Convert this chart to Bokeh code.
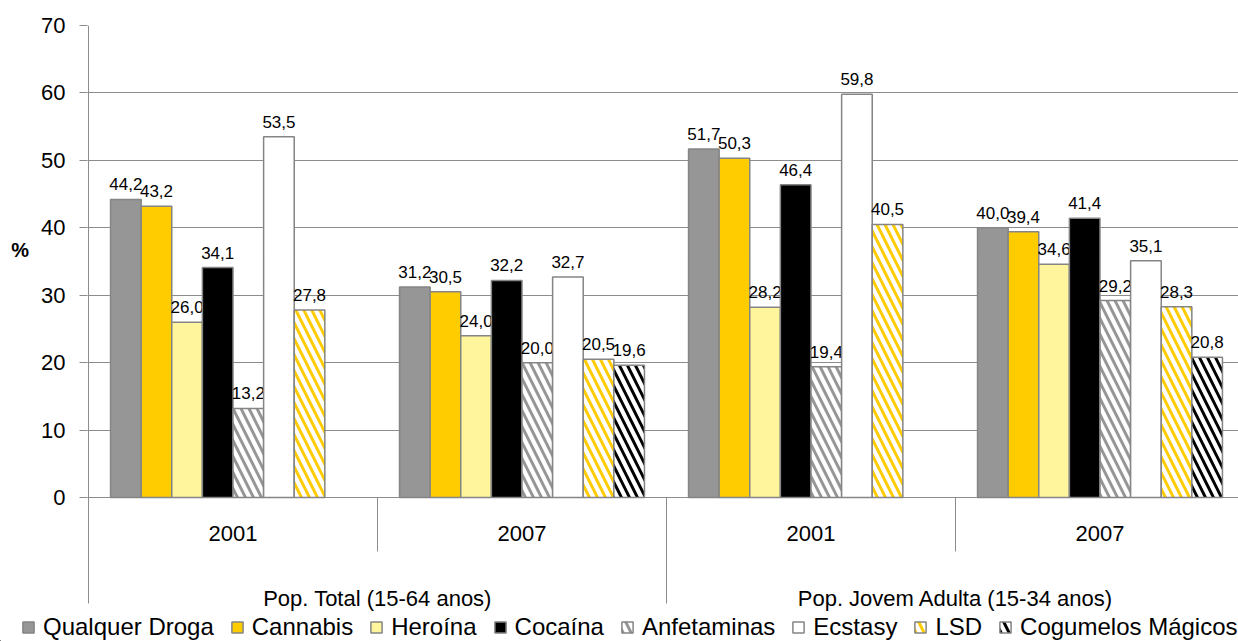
from bokeh.plotting import figure
from bokeh.models import ColumnDataSource, Range1d, FixedTicker, Legend, LegendItem
from bokeh.layouts import column
from bokeh.transform import dodge
from bokeh.core.properties import value
from bokeh.embed import file_html
from bokeh.resources import INLINE

# ---------------- data ----------------
populations = ["Pop. Total (15-64 anos)", "Pop. Jovem Adulta (15-34 anos)"]
years = ["2001", "2007", "2001", "2007"]
series_names = ["Qualquer Droga", "Cannabis", "Heroína", "Cocaína",
                "Anfetaminas", "Ecstasy", "LSD", "Cogumelos Mágicos"]
qualquer_droga = [44.2, 31.2, 51.7, 40.0]
cannabis = [43.2, 30.5, 50.3, 39.4]
heroina = [26.0, 24.0, 28.2, 34.6]
cocaina = [34.1, 32.2, 46.4, 41.4]
anfetaminas = [13.2, 20.0, 19.4, 29.2]
ecstasy = [53.5, 32.7, 59.8, 35.1]
lsd = [27.8, 20.5, 40.5, 28.3]
cogumelos = [None, 19.6, None, 20.8]
y_ticks = [0, 10, 20, 30, 40, 50, 60, 70]

series_values = [qualquer_droga, cannabis, heroina, cocaina,
                 anfetaminas, ecstasy, lsd, cogumelos]

# ---------------- styles ----------------
fills = ["#969696", "#FFCC00", "#FFF59D", "#000000", "#FFFFFF", "#FFFFFF", "#FFFFFF", "#FFFFFF"]
hatches = [None, None, None, None, "\\", None, "\\", "\\"]
hatch_colors = ["black", "black", "black", "black", "#969696", "black", "#FFCC00", "#000000"]
EDGE = "#858585"
GRID = "#8c8c8c"
FONT = "Liberation Sans"

W = 1238
MAIN_H = 612
LEG_H = 641 - MAIN_H
n_groups = len(years)
n_series = len(series_names)
group_px = 289.0          # pixel width of one category group
bar_w = 1.0 / 9.44        # data width of one bar
frame_left = 87
frame_top = 25
frame_w = W - frame_left
px_per_unit = 472.0 / 70.0
frame_h = MAIN_H - frame_top
y_start = 70 - frame_h / px_per_unit


def bar_style(j):
    kw = dict(fill_color=fills[j], line_color=EDGE, line_width=1.5)
    if hatches[j]:
        kw.update(hatch_pattern=hatches[j], hatch_color=hatch_colors[j],
                  hatch_scale=16, hatch_weight=3)
    return kw


def series_source(vals):
    xs = [i + 0.5 for i, v in enumerate(vals) if v is not None]
    tops = [v for v in vals if v is not None]
    labels = [("%.1f" % v).replace(".", ",") for v in tops]
    return ColumnDataSource(dict(x=xs, top=tops, label=labels))


p = figure(width=W, height=MAIN_H,
           x_range=Range1d(-1.0 / group_px, (frame_w - 1) / group_px),
           y_range=Range1d(y_start, 70),
           output_backend="svg", toolbar_location=None,
           x_axis_location=None,
           min_border_left=frame_left, min_border_right=0,
           min_border_top=frame_top, min_border_bottom=0)
p.outline_line_color = None
p.background_fill_color = "white"
p.border_fill_color = "white"

# grid / axis
p.ygrid.ticker = FixedTicker(ticks=y_ticks)
p.ygrid.grid_line_color = GRID
p.ygrid.grid_line_width = 1
for g in p.xgrid:
    g.visible = False
ax = p.yaxis[0]
ax.ticker = FixedTicker(ticks=y_ticks)
ax.axis_line_color = None
ax.major_tick_line_color = GRID
ax.major_tick_out = 8
ax.major_tick_in = 0
ax.minor_tick_line_color = None
ax.major_label_text_font = FONT
ax.major_label_text_font_size = "22px"
ax.major_label_text_color = "black"
ax.major_label_standoff = 14
# "%" title: extra blank lines lift the first line up to the middle of the 0-70 span
ax.axis_label = "%\n \n \n \n \n "
ax.axis_label_orientation = "horizontal"
ax.axis_label_text_font = FONT
ax.axis_label_text_font_size = "20px"
ax.axis_label_text_font_style = "bold"
ax.axis_label_text_color = "black"
ax.axis_label_text_line_height = 1.25
ax.axis_label_standoff = 9

group_centers = [i + 0.5 for i in range(n_groups)]

for j, vals in enumerate(series_values):
    src = series_source(vals)
    off = (j - (n_series - 1) / 2.0) * bar_w
    p.vbar(x=dodge("x", off, range=p.x_range), top="top", bottom=0,
           width=bar_w, source=src, **bar_style(j))
    p.text(x=dodge("x", off, range=p.x_range), y="top", text="label", source=src,
           text_align="center", text_baseline="bottom", y_offset=-9,
           text_font=value(FONT), text_font_size="17px", text_color="black")

# category axis: dividers and labels
left_line_bottom = -(603 - 497) / px_per_unit
year_div_bottom = -(551 - 497) / px_per_unit
div_x = [0, 1, 2, 3]
div_top = [70, 0, 0, 0]
div_bottom = [left_line_bottom, year_div_bottom, left_line_bottom, year_div_bottom]
p.segment(x0=div_x, y0=div_top, x1=div_x, y1=div_bottom, line_color=GRID, line_width=1)

year_y = -(533 - 497) / px_per_unit
pop_y = -(598 - 497) / px_per_unit
p.text(x=group_centers, y=[year_y] * n_groups, text=years,
       text_align="center", text_baseline="middle",
       text_font=value(FONT), text_font_size="22px", text_color="black")
p.text(x=[1, 3], y=[pop_y] * 2, text=populations,
       text_align="center", text_baseline="middle",
       text_font=value(FONT), text_font_size="22px", text_color="black")

# ---------------- legend strip ----------------
# the strip's ranges lie far away from the data, so only the legend swatches are drawn
lp = figure(width=W, height=LEG_H, x_range=Range1d(100, 101), y_range=Range1d(1000, 1001),
            output_backend="svg", toolbar_location=None,
            x_axis_location=None, y_axis_location=None,
            min_border_left=0, min_border_right=0, min_border_top=0, min_border_bottom=0)
lp.outline_line_color = None
lp.grid.visible = False
legend_x = 21
if "frame_align" in lp.properties():
    lp.frame_align = False
    p.frame_align = False
else:
    legend_x = 21 - frame_left
items = []
for j, (name, vals) in enumerate(zip(series_names, series_values)):
    r = lp.vbar(x="x", top="top", bottom=0, width=0.1, source=series_source(vals), **bar_style(j))
    items.append(LegendItem(label=name, renderers=[r]))
legend = Legend(items=items, orientation="horizontal", location=(legend_x, 0),
                glyph_width=14, glyph_height=14, label_standoff=8, spacing=16,
                padding=0, margin=0, border_line_color=None, background_fill_alpha=0,
                label_text_font=FONT, label_text_font_size="24px", label_text_color="black")
lp.add_layout(legend)

layout = column(p, lp, spacing=0)
open("out.html", "w").write(file_html(layout, INLINE))
